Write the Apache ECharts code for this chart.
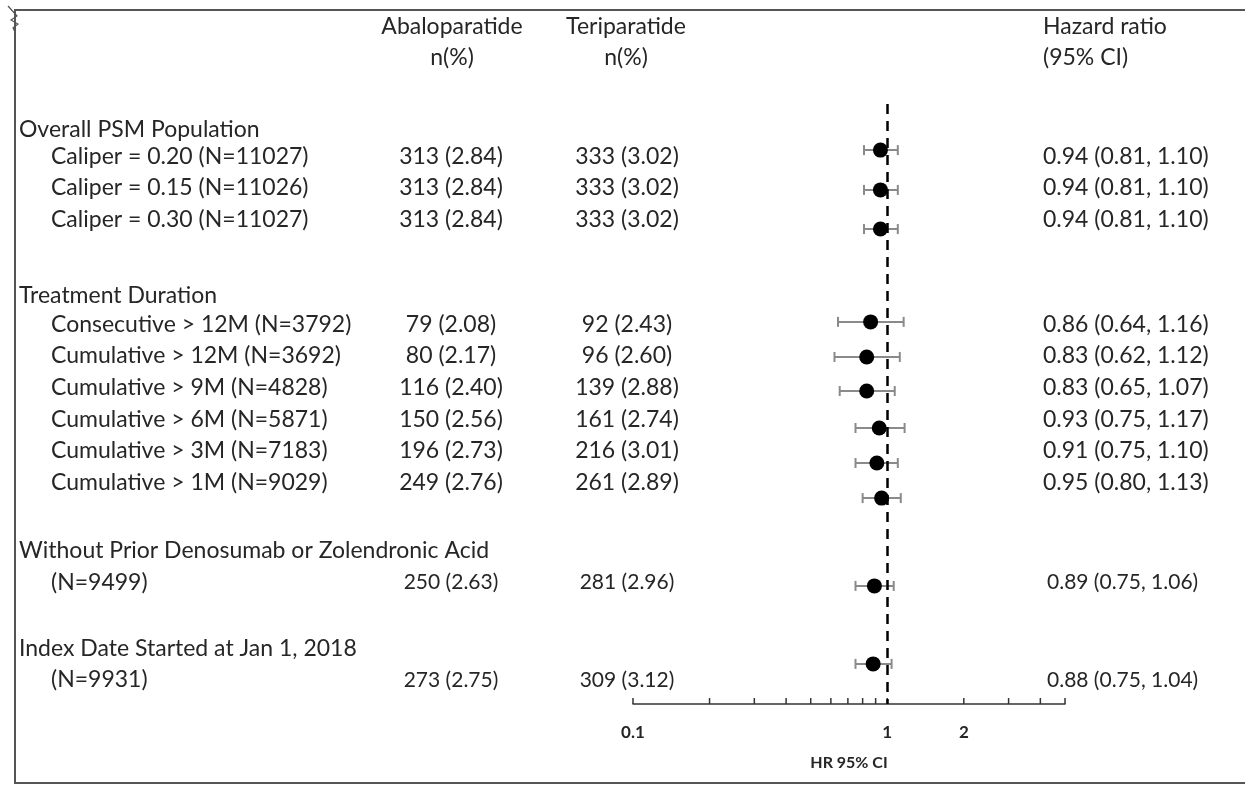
<!DOCTYPE html>
<html>
<head>
<meta charset="utf-8">
<script src="https://cdn.jsdelivr.net/npm/echarts@6.0.0/dist/echarts.min.js"></script>
<style>
  html, body { margin: 0; padding: 0; background: #fff; }
  #chart { width: 1245px; height: 785px; }
</style>
</head>
<body>
<div id="chart"></div>
<script>
// ---- data ----
const groupLabels = [
    'Overall PSM Population',
    'Treatment Duration',
    'Without Prior Denosumab or Zolendronic Acid',
    'Index Date Started at Jan 1, 2018'
];
const groupRows = [0.82, 6.08, 14.15, 17.26];

const rowLabels = [
    'Caliper = 0.20 (N=11027)',
    'Caliper = 0.15 (N=11026)',
    'Caliper = 0.30 (N=11027)',
    'Consecutive > 12M (N=3792)',
    'Cumulative > 12M (N=3692)',
    'Cumulative > 9M (N=4828)',
    'Cumulative > 6M (N=5871)',
    'Cumulative > 3M (N=7183)',
    'Cumulative > 1M (N=9029)',
    '(N=9499)',
    '(N=9931)'
];
const abaloparatide = ['313 (2.84)', '313 (2.84)', '313 (2.84)', '79 (2.08)', '80 (2.17)', '116 (2.40)',
    '150 (2.56)', '196 (2.73)', '249 (2.76)', '250 (2.63)', '273 (2.75)'];
const teriparatide = ['333 (3.02)', '333 (3.02)', '333 (3.02)', '92 (2.43)', '96 (2.60)', '139 (2.88)',
    '161 (2.74)', '216 (3.01)', '261 (2.89)', '281 (2.96)', '309 (3.12)'];
const hr = [0.94, 0.94, 0.94, 0.86, 0.83, 0.83, 0.93, 0.91, 0.95, 0.89, 0.88];
const ciLow = [0.81, 0.81, 0.81, 0.64, 0.62, 0.65, 0.75, 0.75, 0.80, 0.75, 0.75];
const ciHigh = [1.10, 1.10, 1.10, 1.16, 1.12, 1.07, 1.17, 1.10, 1.13, 1.06, 1.04];
const smallRow = [false, false, false, false, false, false, false, false, false, true, true];
// row positions (in row units) for the text and for the markers
const textRows = [1.68, 2.66, 3.67, 7.0, 7.98, 8.99, 10.0, 10.99, 12.0, 15.14, 18.24];
const pointRows = [1.46, 2.72, 3.96, 6.90, 8.01, 9.09, 10.26, 11.37, 12.48, 15.26, 17.73];

const axisTicks = [0.1, 0.2, 0.3, 0.4, 0.5, 0.6, 0.7, 0.8, 0.9, 1, 2, 3, 4, 5];
const axisLabels = [0.1, 1, 2];

// ---- layout ----
const GRID_TOP = 104;
const GRID_BOTTOM_Y = 704;
const ROW_MAX = 19;
const ROW_H = (GRID_BOTTOM_Y - GRID_TOP) / ROW_MAX;
const rowY = v => GRID_TOP + v * ROW_H;

const FONT = 'Lato, "Open Sans", sans-serif';
const TEXT_COLOR = '#262626';
const BIG = 23;
const SMALL = 21;

function txt(text, x, y, align, size, weight) {
    return {
        type: 'text',
        silent: true,
        style: {
            text: text,
            x: x,
            y: y,
            align: align,
            textAlign: align,
            verticalAlign: 'middle',
            textVerticalAlign: 'middle',
            fill: TEXT_COLOR,
            font: (weight || 'normal') + ' ' + size + 'px ' + FONT
        }
    };
}

const graphics = [];
// frame
graphics.push({
    type: 'polyline',
    silent: true,
    shape: { points: [[1245, 10], [15, 10], [15, 783], [1245, 783]] },
    style: { stroke: '#555', lineWidth: 2, fill: null }
});
graphics.push({
    type: 'polyline',
    silent: true,
    shape: { points: [[8, 6], [17, 16], [11, 20], [18, 24], [13, 28], [15, 32]] },
    style: { stroke: '#555', lineWidth: 1.2, fill: null }
});

// headers
graphics.push(txt('Abaloparatide', 452, 27, 'center', BIG));
graphics.push(txt('n(%)', 452, 58, 'center', BIG));
graphics.push(txt('Teriparatide', 626, 27, 'center', BIG));
graphics.push(txt('n(%)', 626, 58, 'center', BIG));
graphics.push(txt('Hazard ratio', 1043, 27, 'left', BIG));
graphics.push(txt('(95% CI)', 1043, 58, 'left', BIG));

groupLabels.forEach((g, i) => graphics.push(txt(g, 19, rowY(groupRows[i]), 'left', BIG)));

rowLabels.forEach((lab, i) => {
    const y = rowY(textRows[i]);
    const size = smallRow[i] ? SMALL : BIG;
    const hrText = hr[i].toFixed(2) + ' (' + ciLow[i].toFixed(2) + ', ' + ciHigh[i].toFixed(2) + ')';
    graphics.push(txt(lab, 51, y, 'left', BIG));
    graphics.push(txt(abaloparatide[i], 451, y, 'center', size));
    graphics.push(txt(teriparatide[i], 627, y, 'center', size));
    graphics.push(txt(hrText, smallRow[i] ? 1047 : 1043, y, 'left', size));
});

const chart = echarts.init(document.getElementById('chart'), null, { renderer: 'canvas' });

const option = {
    animation: false,
    backgroundColor: '#fff',
    grid: { left: 633, right: 180, top: GRID_TOP, bottom: 785 - GRID_BOTTOM_Y },
    xAxis: {
        type: 'log',
        logBase: 10,
        min: 0.1,
        max: 5,
        position: 'bottom',
        axisLine: { show: true, onZero: false, lineStyle: { color: '#333', width: 1.5 } },
        axisTick: { show: false },
        axisLabel: { show: false },
        splitLine: { show: false },
        name: 'HR 95% CI',
        nameLocation: 'middle',
        nameGap: 51,
        nameTextStyle: { color: TEXT_COLOR, fontFamily: FONT, fontWeight: 'bold', fontSize: 16 }
    },
    yAxis: {
        type: 'value',
        inverse: true,
        min: 0,
        max: ROW_MAX,
        show: false
    },
    graphic: graphics,
    series: [
        {
            // confidence intervals
            type: 'custom',
            z: 2,
            data: hr.map((h, i) => [h, ciLow[i], ciHigh[i], pointRows[i]]),
            encode: { x: 0, y: 3 },
            renderItem: function (params, api) {
                const y = api.value(3);
                const a = api.coord([api.value(1), y]);
                const b = api.coord([api.value(2), y]);
                const st = { stroke: '#8a8a8a', lineWidth: 2 };
                return {
                    type: 'group',
                    children: [
                        { type: 'line', shape: { x1: a[0], y1: a[1], x2: b[0], y2: b[1] }, style: st },
                        { type: 'line', shape: { x1: a[0], y1: a[1] - 5, x2: a[0], y2: a[1] + 5 }, style: st },
                        { type: 'line', shape: { x1: b[0], y1: b[1] - 5, x2: b[0], y2: b[1] + 5 }, style: st }
                    ]
                };
            }
        },
        {
            type: 'scatter',
            z: 4,
            symbol: 'circle',
            symbolSize: 15,
            itemStyle: { color: '#000', opacity: 1 },
            data: hr.map((h, i) => [h, pointRows[i]]),
            markLine: {
                silent: true,
                symbol: 'none',
                label: { show: false },
                lineStyle: { color: '#000', width: 2.5, type: [10, 7], opacity: 1 },
                data: [{ xAxis: 1 }]
            }
        },
        {
            // axis ticks
            type: 'custom',
            z: 3,
            data: axisTicks.map(v => [v]),
            encode: { x: 0 },
            renderItem: function (params, api) {
                const p = api.coord([api.value(0), ROW_MAX]);
                return {
                    type: 'line',
                    shape: { x1: p[0], y1: p[1], x2: p[0], y2: p[1] - 6 },
                    style: { stroke: '#333', lineWidth: 1.5 }
                };
            }
        },
        {
            // axis labels
            type: 'custom',
            z: 3,
            data: axisLabels.map(v => [v]),
            encode: { x: 0 },
            renderItem: function (params, api) {
                const p = api.coord([api.value(0), ROW_MAX]);
                return {
                    type: 'text',
                    style: {
                        text: String(api.value(0)),
                        x: p[0],
                        y: p[1] + 29,
                        align: 'center',
                        verticalAlign: 'middle',
                        fill: TEXT_COLOR,
                        font: 'bold 17px ' + FONT
                    }
                };
            }
        }
    ]
};

chart.setOption(option);
</script>
</body>
</html>
